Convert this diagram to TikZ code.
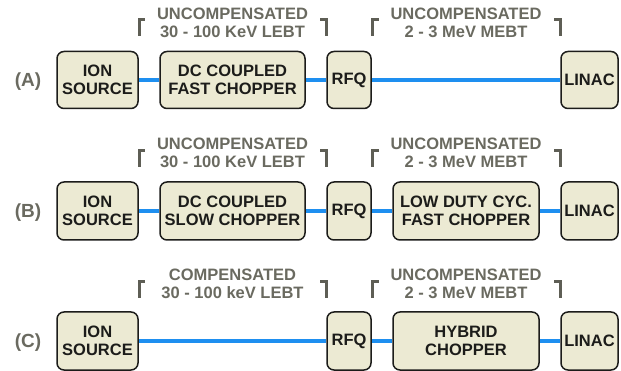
\documentclass[tikz,border=0pt]{standalone}
\usepackage{fontspec}
\setmainfont{Liberation Sans}
\usepackage{xcolor}
\definecolor{ink}{HTML}{1C1C1A}
\definecolor{boxbg}{HTML}{ECEAD3}
\definecolor{muted}{HTML}{6A6A60}
\definecolor{bracket}{HTML}{5E5E55}
\definecolor{beam}{HTML}{1E8FF0}

\begin{document}
\begin{tikzpicture}[
  x=1pt,y=-1pt,font=\bfseries,
  stage/.style={draw=ink,fill=boxbg,rounded corners=7pt,line width=1.5pt,
                align=center,text=ink,inner sep=0pt,
                font=\bfseries\fontsize{16.5}{18}\selectfont},
  section/.style={font=\bfseries\fontsize{16.5}{18}\selectfont,
                  text=muted,align=center},
  rowtag/.style={font=\bfseries\fontsize{19}{20}\selectfont,text=muted},
  beamline/.style={draw=beam,line width=4pt},
  brk/.style={draw=bracket,line width=3pt}
]
\useasboundingbox (0,0) rectangle (621,371);

% (A) fast chopper in the LEBT
\node[rowtag] (tagA) at (28,82) {(A)};
\node[stage,minimum width=81pt,minimum height=57pt] (srcA) at (97.5,80) {ION\\SOURCE};
\node[stage,minimum width=145pt,minimum height=57pt] (chopA) at (232.5,80) {DC COUPLED\\FAST CHOPPER};
\node[stage,minimum width=44pt,minimum height=57pt] (rfqA) at (349,80) {RFQ};
\node[stage,minimum width=57pt,minimum height=57pt] (linacA) at (589.5,80) {LINAC};
\node[section] (lebtA) at (232.5,23) {UNCOMPENSATED\\30 - 100 KeV LEBT};
\node[section] (mebtA) at (466,23) {UNCOMPENSATED\\2 - 3 MeV MEBT};
\draw[beamline] (srcA) -- (chopA);
\draw[beamline] (chopA) -- (rfqA);
\draw[beamline] (rfqA) -- (linacA);

% (B) slow chopper in the LEBT, fast chopper in the MEBT
\node[rowtag] (tagB) at (28,213) {(B)};
\node[stage,minimum width=81pt,minimum height=58pt] (srcB) at (97.5,211) {ION\\SOURCE};
\node[stage,minimum width=145pt,minimum height=58pt] (chopB) at (232.5,211) {DC COUPLED\\SLOW CHOPPER};
\node[stage,minimum width=44pt,minimum height=58pt] (rfqB) at (349,211) {RFQ};
\node[stage,minimum width=146pt,minimum height=58pt] (fastB) at (466,211) {LOW DUTY CYC.\\FAST CHOPPER};
\node[stage,minimum width=57pt,minimum height=58pt] (linacB) at (589.5,211) {LINAC};
\node[section] (lebtB) at (232.5,153) {UNCOMPENSATED\\30 - 100 KeV LEBT};
\node[section] (mebtB) at (466,153) {UNCOMPENSATED\\2 - 3 MeV MEBT};
\draw[beamline] (srcB) -- (chopB);
\draw[beamline] (chopB) -- (rfqB);
\draw[beamline] (rfqB) -- (fastB);
\draw[beamline] (fastB) -- (linacB);

% (C) hybrid chopper in the MEBT
\node[rowtag] (tagC) at (28,343) {(C)};
\node[stage,minimum width=81pt,minimum height=58pt] (srcC) at (97.5,341) {ION\\SOURCE};
\node[stage,minimum width=44pt,minimum height=58pt] (rfqC) at (349,341) {RFQ};
\node[stage,minimum width=146pt,minimum height=58pt] (hybC) at (466,341) {HYBRID\\CHOPPER};
\node[stage,minimum width=57pt,minimum height=58pt] (linacC) at (589.5,341) {LINAC};
\node[section] (lebtC) at (232.5,284) {COMPENSATED\\30 - 100 keV LEBT};
\node[section] (mebtC) at (466,284) {UNCOMPENSATED\\2 - 3 MeV MEBT};
\draw[beamline] (srcC) -- (rfqC);
\draw[beamline] (rfqC) -- (hybC);
\draw[beamline] (hybC) -- (linacC);

% section brackets
\foreach \y in {20,151,282} {
  \draw[brk] (139,\y+16) -- (139,\y) -- (145,\y);
  \draw[brk] (320,\y) -- (326.5,\y) -- (326.5,\y+16);
  \draw[brk] (372,\y+16) -- (372,\y) -- (379,\y);
  \draw[brk] (554,\y) -- (560.5,\y) -- (560.5,\y+16);
}

\end{tikzpicture}
\end{document}
